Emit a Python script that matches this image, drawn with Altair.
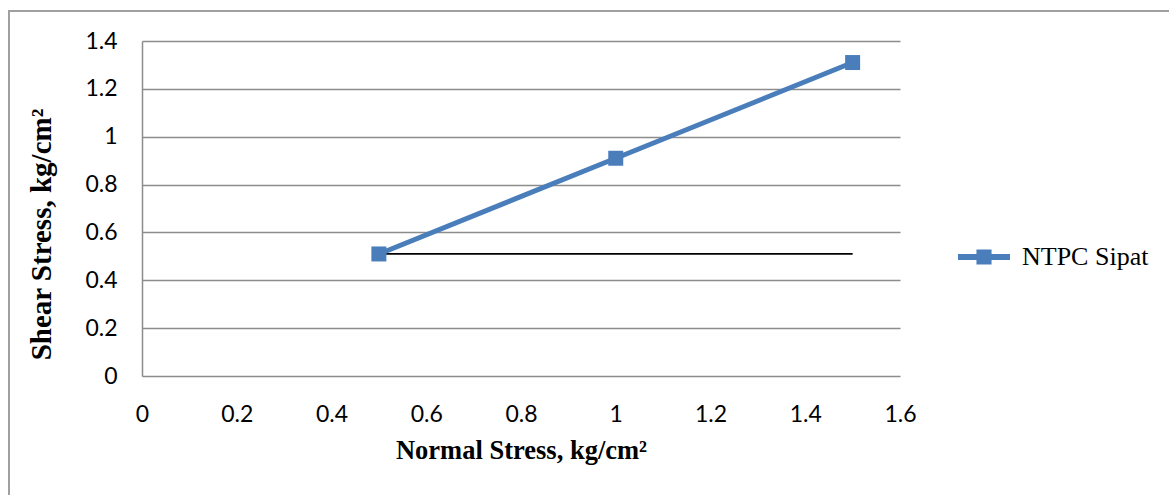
import altair as alt
import pandas as pd

normal_stress = [0.5, 1.0, 1.5]
shear_stress = [0.51, 0.91, 1.31]
series_name = ["NTPC Sipat", "NTPC Sipat", "NTPC Sipat"]
ref_x = [0.5]
ref_x2 = [1.5]
ref_y = [0.51]
x_ticks = [0, 0.2, 0.4, 0.6, 0.8, 1.0, 1.2, 1.4, 1.6]
y_ticks = [0, 0.2, 0.4, 0.6, 0.8, 1.0, 1.2, 1.4]

BLUE = "#4A7EBB"
GRID = "#8C8C8C"

df = pd.DataFrame({"x": normal_stress, "y": shear_stress, "s": series_name})
ref = pd.DataFrame({"x": ref_x, "x2": ref_x2, "y": ref_y})

W, H = 758, 335
PL, PT = 142, 41

xscale = alt.Scale(domain=[0, 1.6], nice=False, zero=False)
yscale = alt.Scale(domain=[0, 1.4], nice=False, zero=False)

xaxis = alt.Axis(values=x_ticks, format="~g", grid=False, domain=False, ticks=False,
                 labelPadding=27, labelFlush=False, title="Normal Stress, kg/cm²",
                 titlePadding=11, titleFontSize=26.5)
yaxis = alt.Axis(values=y_ticks, format="~g", grid=True, domain=True, ticks=False,
                 labelPadding=25, labelFlush=False, title="Shear Stress, kg/cm²",
                 titlePadding=28, titleFontSize=29, titleY=234 - PT)

color = alt.Color("s:N", scale=alt.Scale(range=[BLUE]),
                  legend=alt.Legend(title=None, orient="none", legendX=958 - PL, legendY=257 - PT - 26,
                                    symbolType="M-1,-0.115H1V0.115H-1Z M-0.29,-0.29H0.29V0.29H-0.29Z",
                                    symbolSize=2704, symbolStrokeWidth=0, symbolFillColor=BLUE,
                                    labelFont="Liberation Serif", labelFontSize=26, labelColor="#000",
                                    labelOffset=12))

border = alt.Chart(pd.DataFrame({"a": [0]})).mark_rect(
    fill="transparent", stroke="#A0A0A0", strokeWidth=2
).encode(x=alt.value(9 - PL), x2=alt.value(1169 - PL + 20), y=alt.value(11 - PT), y2=alt.value(495 - PT + 20))

line = alt.Chart(df).mark_line(strokeWidth=5).encode(
    x=alt.X("x:Q", scale=xscale, axis=xaxis),
    y=alt.Y("y:Q", scale=yscale, axis=yaxis),
    color=color,
)
pts = alt.Chart(df).mark_point(shape="square", filled=True, size=225, opacity=1).encode(
    x=alt.X("x:Q", scale=xscale), y=alt.Y("y:Q", scale=yscale), color=color,
)
rule = alt.Chart(ref).mark_rule(color="black", strokeWidth=1.8).encode(
    x=alt.X("x:Q", scale=xscale), x2="x2:Q", y=alt.Y("y:Q", scale=yscale),
)

chart = alt.layer(border, rule, line, pts).properties(
    width=W, height=H,
    autosize=alt.AutoSizeParams(type="none"),
    padding={"left": PL, "top": PT, "right": 1169 - PL - W, "bottom": 495 - PT - H},
    background="white",
).configure_view(stroke=None).configure_axis(
    labelFont="Lato", labelFontSize=23, labelColor="#000",
    titleFont="Liberation Serif", titleFontWeight="bold", titleColor="#000",
    gridColor=GRID, gridWidth=1.5, domainColor=GRID, domainWidth=1.5,
)

chart.save("out.html", embed_options={"renderer": "svg", "actions": False})
